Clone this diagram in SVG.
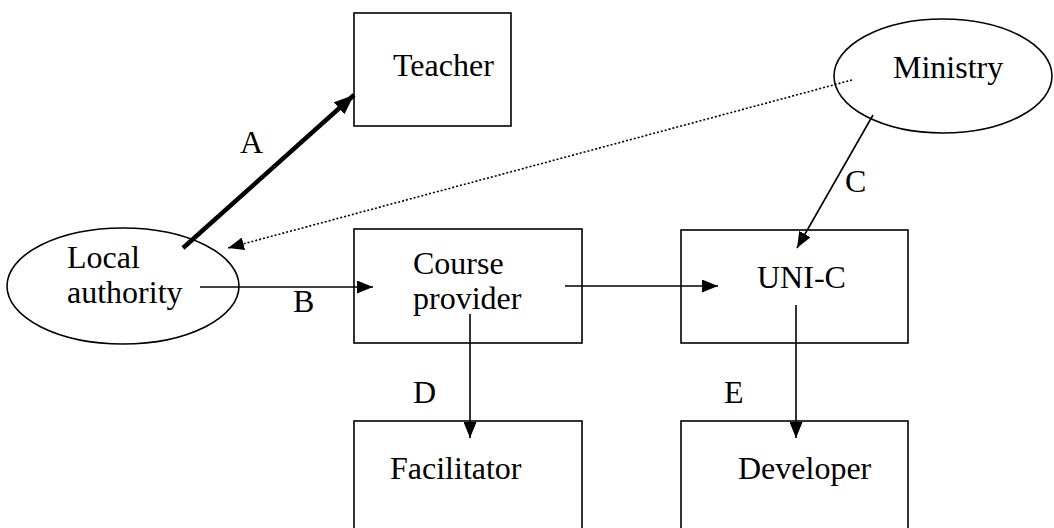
<svg xmlns="http://www.w3.org/2000/svg" width="1054" height="528" viewBox="0 0 1054 528">
  <style>
    .box { fill: #fff; stroke: #000; stroke-width: 1.6; }
    .oval { fill: #fff; stroke: #000; stroke-width: 1.6; }
    .lbl { font-family: "Liberation Serif", "Times New Roman", serif; font-size: 32px; fill: #000; }
    .link { fill: none; stroke: #000; stroke-width: 1.6; }
    .thick { fill: none; stroke: #000; stroke-width: 4.5; }
    .dotted { fill: none; stroke: #000; stroke-width: 1.6; stroke-dasharray: 2 2; }
  </style>
  <defs>
    <marker id="headS" viewBox="0 0 10 10" refX="10" refY="5" markerWidth="16" markerHeight="13" markerUnits="userSpaceOnUse" orient="auto" preserveAspectRatio="none">
      <path d="M0,0 L10,5 L0,10 z" fill="#000"/>
    </marker>
    <marker id="headL" viewBox="0 0 10 10" refX="10" refY="5" markerWidth="20" markerHeight="16" markerUnits="userSpaceOnUse" orient="auto" preserveAspectRatio="none">
      <path d="M0,0 L10,5 L0,10 z" fill="#000"/>
    </marker>
  </defs>
  <rect width="1054" height="528" fill="#fff"/>

  <g id="teacher">
    <rect class="box" x="354" y="13" width="157" height="113"/>
    <text class="lbl" x="393" y="76">Teacher</text>
  </g>

  <g id="ministry">
    <ellipse class="oval" cx="943" cy="76" rx="109" ry="57"/>
    <text class="lbl" x="893" y="78">Ministry</text>
  </g>

  <g id="local-authority">
    <ellipse class="oval" cx="123" cy="286" rx="116" ry="58"/>
    <text class="lbl" x="67" y="268">Local</text>
    <text class="lbl" x="67" y="303">authority</text>
  </g>

  <g id="course-provider">
    <rect class="box" x="354" y="229" width="228" height="114"/>
    <text class="lbl" x="413" y="274">Course</text>
    <text class="lbl" x="413" y="309">provider</text>
  </g>

  <g id="uni-c">
    <rect class="box" x="681" y="230" width="227" height="113"/>
    <text class="lbl" x="757" y="288">UNI-C</text>
  </g>

  <g id="facilitator">
    <rect class="box" x="354" y="421" width="228" height="130"/>
    <text class="lbl" x="390" y="479">Facilitator</text>
  </g>

  <g id="developer">
    <rect class="box" x="681" y="421" width="227" height="130"/>
    <text class="lbl" x="738" y="479">Developer</text>
  </g>

  <g id="connectors">
    <line class="thick" x1="183" y1="248" x2="354" y2="95" marker-end="url(#headL)"/>
    <line class="dotted" x1="852" y1="80" x2="228" y2="248" marker-end="url(#headS)"/>
    <line class="link" x1="200" y1="287" x2="373" y2="287" marker-end="url(#headS)"/>
    <line class="link" x1="565" y1="286" x2="718" y2="286" marker-end="url(#headS)"/>
    <line class="link" x1="873" y1="115" x2="797" y2="248" marker-end="url(#headS)"/>
    <line class="link" x1="470" y1="314" x2="470" y2="438" marker-end="url(#headS)"/>
    <line class="link" x1="796" y1="305" x2="796" y2="438" marker-end="url(#headS)"/>
    <text class="lbl" x="240" y="153">A</text>
    <text class="lbl" x="293" y="312">B</text>
    <text class="lbl" x="845" y="192">C</text>
    <text class="lbl" x="413" y="403">D</text>
    <text class="lbl" x="724" y="403">E</text>
  </g>
</svg>
